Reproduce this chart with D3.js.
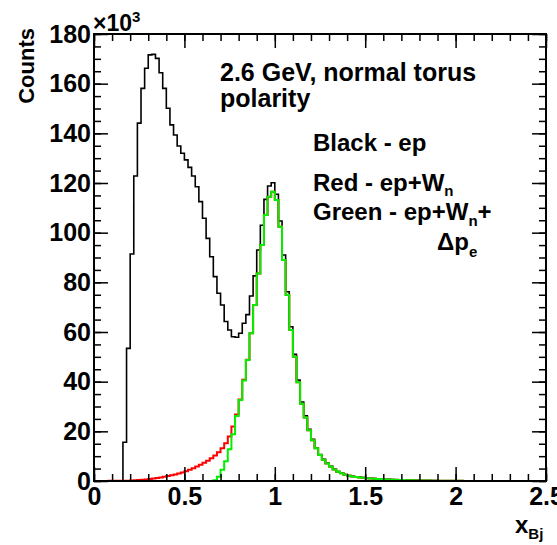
<!DOCTYPE html>
<html><head><meta charset="utf-8">
<script src="https://cdn.jsdelivr.net/npm/d3@7"></script>
<style>
body{margin:0;background:#fff;}
text{font-family:"Liberation Sans",Arial,Helvetica,sans-serif;font-weight:bold;fill:#000;}
</style></head>
<body><svg id="c" width="557" height="545"></svg>
<script>
// histogram: 125 bins of width 0.02 on [0, 2.5], counts in units of 10^3
const binWidth = 0.02;
const xDomain = [0, 2.5];
const yDomain = [0, 180];
const xMajorTicks = [0, 0.5, 1, 1.5, 2, 2.5];
const xTickLabels = ["0", "0.5", "1", "1.5", "2", "2.5"];
const yMajorTicks = [0, 20, 40, 60, 80, 100, 120, 140, 160, 180];
const yTickLabels = ["0", "20", "40", "60", "80", "100", "120", "140", "160", "180"];

const blackEp = [
 0,0,0,0,0,0,0,0,
 15.6,53.4,91.4,122.8,144.1,158.1,166.2,171.6,171.8,170.2,
 164.4,158.1,150.1,143.4,139.3,134.9,132.0,129.3,126.3,122.8,
 118.5,112.5,105.8,97.7,90.3,82.3,75.6,70.9,64.2,60.8,
 58.1,57.9,59.5,63.5,67.0,74.5,82.6,93.0,103.0,113.4,
 118.8,120.1,115.5,104.7,91.0,76.2,62.1,51.0,40.7,31.8,
 26.3,20.8,16.8,13.4,10.7,8.7,7.2,5.9,4.8,3.8,
 3.2,2.6,2.2,1.9,1.7,1.5,1.35,1.2,1.1,1.0,
 0.9,0.8,0.72,0.65,0.58,0.52,0.46,0.41,0.37,0.33,
 0.29,0.26,0.23,0.2,0.18,0.16,0.14,0.12,0.11,0.1,
 0.09,0.08,0.07,0.06,0.06,0.05,0.05,0.05,0.04,0.04,
 0.04,0.03,0.03,0.03,0.03,0.02,0.02,0.02,0.02,0.02,
 0.01,0.01,0.01,0.01,0.01,0.01,0.01
];
const redEpWn = [
 0.02,0.03,0.04,0.05,0.06,0.07,0.08,0.1,
 0.12,0.15,0.2,0.28,0.38,0.5,0.65,0.8,1.0,1.2,
 1.45,1.7,2.0,2.3,2.65,3.0,3.45,3.95,4.5,5.1,
 5.8,6.5,7.3,8.2,9.2,10.3,11.6,13.2,15.2,17.9,
 21.9,26.8,32.8,40.8,48.8,59.5,70.9,83.6,95.0,107.1,
 114.5,116.5,113.2,102.4,89.0,74.9,60.8,50.0,39.8,31.1,
 25.6,20.4,16.4,13.2,10.5,8.6,7.0,5.7,4.6,3.7,
 3.1,2.55,2.15,1.85,1.6,1.45,1.3,1.15,1.05,0.95,
 0.85,0.76,0.68,0.61,0.55,0.49,0.44,0.39,0.35,0.31,
 0.28,0.25,0.22,0.19,0.17,0.15,0.13,0.12,0.1,0.09,
 0.08,0.07,0.07,0.06,0.05,0.05,0.05,0.04,0.04,0.04,
 0.03,0.03,0.03,0.03,0.02,0.02,0.02,0.02,0.02,0.01,
 0.01,0.01,0.01,0.01,0.01,0.01,0.01
];
const greenEpWnDp = [
 0,0,0,0,0,0,0,0,
 0,0,0,0,0,0,0,0,0,0,
 0,0,0,0,0,0,0,0,0,0,
 0,0,0,0,0,0.3,1.7,4.5,8.0,12.8,
 18.8,26.2,32.6,40.5,48.7,59.5,70.9,83.6,95.0,107.1,
 114.5,116.5,113.2,102.4,89.0,74.9,60.8,50.0,39.8,31.1,
 25.6,20.4,16.4,13.2,10.5,8.6,7.0,5.7,4.6,3.7,
 3.1,2.55,2.15,1.85,1.6,1.45,1.3,1.15,1.05,0.95,
 0.85,0.76,0.68,0.61,0.55,0.49,0.44,0.39,0.35,0.31,
 0.28,0.25,0.22,0.19,0.17,0.15,0.13,0.12,0.1,0.09,
 0.08,0.07,0.07,0.06,0.05,0.05,0.05,0.04,0.04,0.04,
 0.03,0.03,0.03,0.03,0.02,0.02,0.02,0.02,0.02,0.01,
 0.01,0.01,0.01,0.01,0.01,0.01,0.01
];
const seriesColors = ["#000000", "#ff0000", "#00f000"];

const svg = d3.select("#c");
const L = 94, R = 546, T = 34, B = 481;
const x = d3.scaleLinear().domain(xDomain).range([L, R]);
const y = d3.scaleLinear().domain(yDomain).range([B, T]);

svg.append("clipPath").attr("id","clip").append("rect")
  .attr("x", L).attr("y", T).attr("width", R-L).attr("height", B-T);

function stepPoints(vals){
  const pts = [[xDomain[0], 0]];
  vals.forEach((v,i)=>{ pts.push([i*binWidth, v]); pts.push([(i+1)*binWidth, v]); });
  pts.push([vals.length*binWidth, 0]);
  return pts;
}
const line = d3.line().x(d=>x(d[0])).y(d=>y(d[1]));
const g = svg.append("g").attr("clip-path","url(#clip)");
[[blackEp,1.6],[redEpWn,2],[greenEpWnDp,2]].forEach((s,k)=>{
  g.append("path").attr("d", line(stepPoints(s[0])))
   .attr("fill","none").attr("stroke", seriesColors[k]).attr("stroke-width", s[1])
   .attr("stroke-linejoin","miter");
});

// axes
const xMinor = d3.range(0, 2.5001, 0.1);
const yMinor = d3.range(0, 180.01, 5);
function styleAxis(sel){ sel.select(".domain").remove(); sel.selectAll("line").attr("stroke","#000").attr("stroke-width",1.5); }
svg.append("g").attr("transform",`translate(0,${B})`)
  .call(d3.axisBottom(x).tickValues(xMinor).tickSize(-7).tickFormat("")).call(styleAxis);
svg.append("g").attr("transform",`translate(0,${B})`)
  .call(d3.axisBottom(x).tickValues(xMajorTicks).tickSize(-14).tickPadding(6)
    .tickFormat((d,i)=>xTickLabels[i])).call(styleAxis)
  .selectAll("text").attr("font-size",25).attr("font-family","Liberation Sans, Arial").attr("font-weight","bold");
svg.append("g").attr("transform",`translate(0,${T})`)
  .call(d3.axisTop(x).tickValues(xMinor).tickSize(-7).tickFormat("")).call(styleAxis);
svg.append("g").attr("transform",`translate(0,${T})`)
  .call(d3.axisTop(x).tickValues(xMajorTicks).tickSize(-14).tickFormat("")).call(styleAxis);
svg.append("g").attr("transform",`translate(${L},0)`)
  .call(d3.axisLeft(y).tickValues(yMinor).tickSize(-7).tickFormat("")).call(styleAxis);
svg.append("g").attr("transform",`translate(${L},0)`)
  .call(d3.axisLeft(y).tickValues(yMajorTicks).tickSize(-14).tickPadding(3)
    .tickFormat((d,i)=>yTickLabels[i])).call(styleAxis)
  .selectAll("text").attr("font-size",25).attr("font-family","Liberation Sans, Arial").attr("font-weight","bold");
svg.append("g").attr("transform",`translate(${R},0)`)
  .call(d3.axisRight(y).tickValues(yMinor).tickSize(-7).tickFormat("")).call(styleAxis);
svg.append("g").attr("transform",`translate(${R},0)`)
  .call(d3.axisRight(y).tickValues(yMajorTicks).tickSize(-14).tickFormat("")).call(styleAxis);

svg.append("rect").attr("x",L).attr("y",T).attr("width",R-L).attr("height",B-T)
  .attr("fill","none").attr("stroke","#000").attr("stroke-width",2);

// exponent
const ex = svg.append("text").attr("x",93).attr("y",31).attr("font-size",23).attr("font-weight","normal");
ex.append("tspan").text("×10");
ex.append("tspan").attr("font-size",15).attr("dy",-9).text("3");

// axis titles
svg.append("text").attr("transform","translate(34,28) rotate(-90)")
  .attr("text-anchor","end").attr("font-size",22).text("Counts");
const xt = svg.append("text").attr("x",515).attr("y",533).attr("font-size",24);
xt.append("tspan").text("x");
xt.append("tspan").attr("font-size",15).attr("dy",6).text("Bj");

// annotations
svg.append("text").attr("x",220).attr("y",81).attr("font-size",25).text("2.6 GeV, normal torus");
svg.append("text").attr("x",220).attr("y",107).attr("font-size",25).text("polarity");
svg.append("text").attr("x",313).attr("y",151).attr("font-size",24).text("Black - ep");
const r1 = svg.append("text").attr("x",313).attr("y",191).attr("font-size",24);
r1.append("tspan").text("Red - ep+W");
r1.append("tspan").attr("font-size",15).attr("dy",5).text("n");
const g1 = svg.append("text").attr("x",313).attr("y",220).attr("font-size",24);
g1.append("tspan").text("Green - ep+W");
g1.append("tspan").attr("font-size",15).attr("dy",6).text("n");
g1.append("tspan").attr("dy",-6).text("+");
const d1 = svg.append("text").attr("x",437).attr("y",250).attr("font-size",24);
d1.append("tspan").text("Δp");
d1.append("tspan").attr("font-size",15).attr("dy",7).text("e");
</script></body></html>
